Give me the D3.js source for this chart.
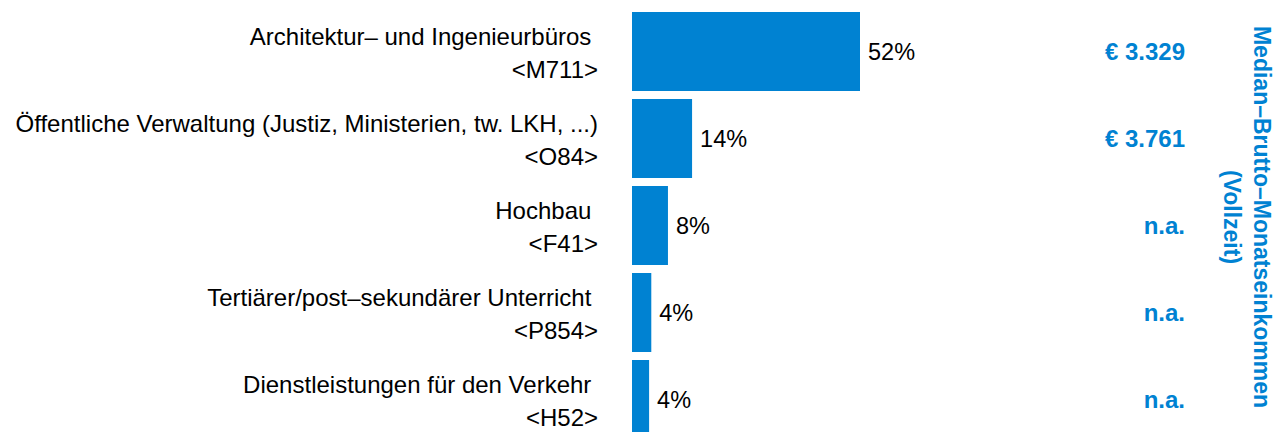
<!DOCTYPE html>
<html>
<head>
<meta charset="utf-8">
<script src="https://d3js.org/d3.v7.min.js"></script>
<style>
  body { margin: 0; background: #fff; }
  text { font-family: "Liberation Sans", Arial, sans-serif; }
</style>
</head>
<body>
<script>
// data
let branchen = [
    "Architektur\u2013 und Ingenieurbüros ",
    "Öffentliche Verwaltung (Justiz, Ministerien, tw. LKH, ...)",
    "Hochbau ",
    "Tertiärer/post\u2013sekundärer Unterricht ",
    "Dienstleistungen für den Verkehr "
];
let codes = ["<M711>", "<O84>", "<F41>", "<P854>", "<H52>"];
let anteile = [52, 13.7, 8.2, 4.4, 3.9];
let einkommen = ["€ 3.329", "€ 3.761", "n.a.", "n.a.", "n.a."];
let achsenTitel = ["Median\u2013Brutto\u2013Monatseinkommen", "(Vollzeit)"];

let width = 1274,
    height = 432;
let blue = "#0082d2";

let svg = d3.select("body").append("svg")
    .attr("width", width)
    .attr("height", height);

let y = d3.scaleBand()
    .domain(d3.range(branchen.length))
    .range([12, 439])
    .paddingInner(0.092)
    .paddingOuter(0);

let x = d3.scaleLinear()
    .domain([0, 52])
    .range([632, 860]);

// bars
svg.selectAll("rect.bar")
    .data(anteile)
    .join("rect")
        .attr("class", "bar")
        .attr("x", x(0))
        .attr("y", (d, i) => y(i))
        .attr("width", d => x(d) - x(0))
        .attr("height", y.bandwidth())
        .attr("fill", blue);

// percentage labels
svg.selectAll("text.pct")
    .data(anteile)
    .join("text")
        .attr("class", "pct")
        .attr("x", d => x(d) + 8)
        .attr("y", (d, i) => y(i) + y.bandwidth() / 2)
        .attr("dy", "0.35em")
        .attr("font-size", 23.5)
        .attr("fill", "#000")
        .text(d => d3.format(".0f")(d) + "%");

// category labels, two lines
let cat = svg.selectAll("text.cat")
    .data(branchen)
    .join("text")
        .attr("class", "cat")
        .attr("text-anchor", "end")
        .attr("font-size", 24)
        .attr("fill", "#000")
        .style("white-space", "pre");
cat.append("tspan")
    .attr("x", 598)
    .attr("y", (d, i) => y(i) + y.bandwidth() / 2 - 15)
    .attr("dy", "0.35em")
    .text(d => d);
cat.append("tspan")
    .attr("x", 598)
    .attr("y", (d, i) => y(i) + y.bandwidth() / 2 + 18)
    .attr("dy", "0.35em")
    .text((d, i) => codes[i]);

// income values
svg.selectAll("text.eink")
    .data(einkommen)
    .join("text")
        .attr("class", "eink")
        .attr("x", 1185)
        .attr("y", (d, i) => y(i) + y.bandwidth() / 2)
        .attr("dy", "0.35em")
        .attr("text-anchor", "end")
        .attr("font-size", 24)
        .attr("font-weight", "bold")
        .attr("fill", blue)
        .text(d => d);

// rotated axis title
let title = svg.append("text")
    .attr("transform", "translate(1262," + 217 + ") rotate(90)")
    .attr("text-anchor", "middle")
    .attr("font-size", 23)
    .attr("font-weight", "bold")
    .attr("fill", blue);
title.selectAll("tspan")
    .data(achsenTitel)
    .join("tspan")
        .attr("x", 0)
        .attr("y", (d, i) => i * 30)
        .attr("dy", "0.35em")
        .text(d => d);
</script>
</body>
</html>
